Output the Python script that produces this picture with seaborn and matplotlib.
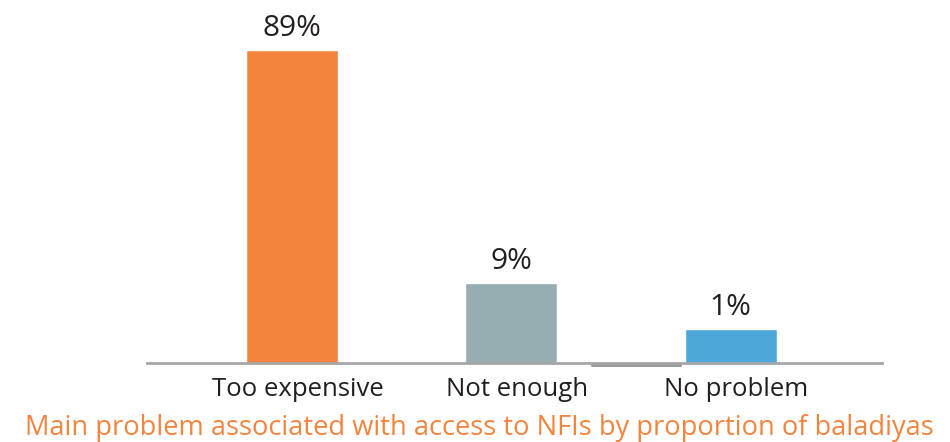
import matplotlib
matplotlib.use("Agg")
import matplotlib.pyplot as plt
import matplotlib.transforms as mtransforms
import seaborn as sns
import pandas as pd

# categories and shares shown on the chart
categories = ["Too expensive", "Not enough", "No problem"]
share_labels = ["89%", "9%", "1%"]
# bar heights as drawn in the source graphic (not proportional to the labels)
bar_heights = [89, 22.7, 9.7]
bar_colors = ["#F3843E", "#96AEB1", "#4BA8D9"]

df = pd.DataFrame({"problem": categories, "height": bar_heights})

sns.set_theme(style="white")
plt.rcParams["font.family"] = ["Open Sans", "DejaVu Sans"]

fig = plt.figure(figsize=(9.5, 4.42), dpi=100)
ax = fig.add_axes([0.1547, 0.1787, 0.7737, 0.776])

sns.barplot(data=df, x="problem", y="height", hue="problem",
            palette=bar_colors, legend=False, width=0.42, saturation=1, ax=ax)

for i, txt in enumerate(share_labels):
    ax.annotate(txt, (i, bar_heights[i]), xytext=(0, 5), textcoords="offset points",
                ha="center", va="bottom", fontsize=21.5, color="#231F20")

ax.set_xlim(-0.66, 2.69)
ax.set_ylim(0, 97.5)
ax.set_yticks([])
ax.set_ylabel("")
for s in ["top", "right", "left"]:
    ax.spines[s].set_visible(False)
ax.spines["bottom"].set_color("#A6A6A6")
ax.spines["bottom"].set_linewidth(2)

# small darker segment under the baseline between the last two bars
ax.plot([1.37, 1.77], [-0.7, -0.7], color="#999999", lw=2.2, clip_on=False)

ax.tick_params(axis="x", length=0, pad=10, labelsize=18.5, labelcolor="#231F20")
# labels sit a little right of the bar centres in the source
shift = mtransforms.ScaledTranslation(6 / 100, 0, fig.dpi_scale_trans)
for lbl in ax.get_xticklabels():
    lbl.set_transform(lbl.get_transform() + shift)

ax.set_xlabel("Main problem associated with access to NFIs by proportion of baladiyas",
              fontsize=19.6, color="#F3843E")
ax.xaxis.set_label_coords(0.452, -0.15)

fig.savefig("out.png", dpi=100)
